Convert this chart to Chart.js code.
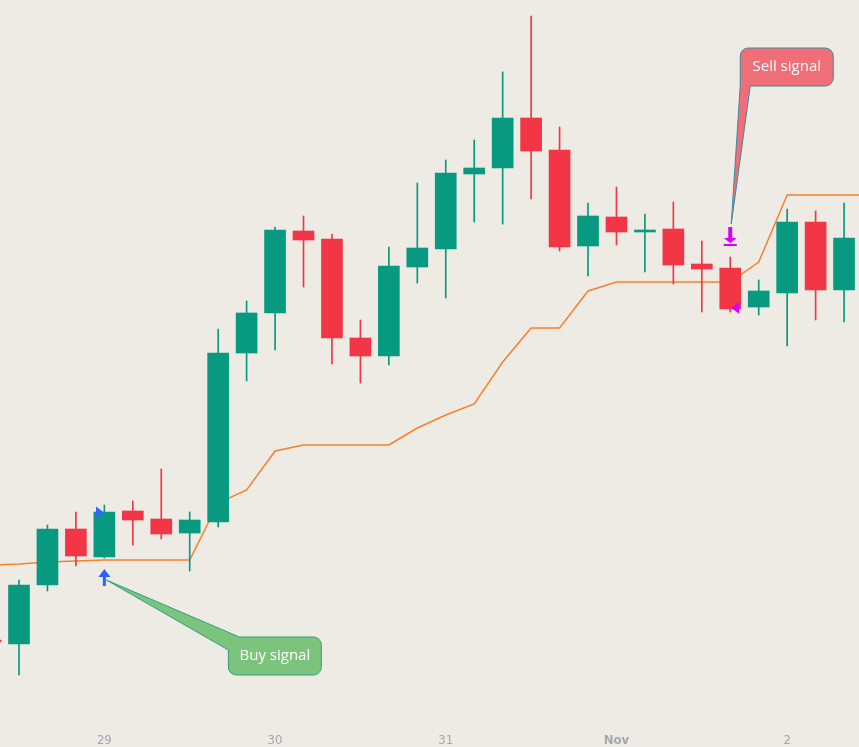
<!DOCTYPE html>
<html>
<head>
<meta charset="utf-8">
<script src="https://cdn.jsdelivr.net/npm/chart.js@4.4.0/dist/chart.umd.min.js"></script>
<style>
  html, body { margin: 0; padding: 0; background: #eeebe5; }
  #wrap { position: relative; width: 859px; height: 747px; }
</style>
</head>
<body>
<div id="wrap"><canvas id="chart"></canvas></div>
<script>
'use strict';

// 4h candles; position 0 is the first full candle at the left edge
const firstIdx = -1;
const opens  = [116.0, 115.6, 121.5, 127.1, 124.3, 128.9, 128.1, 126.7, 127.8, 144.7, 148.7, 156.9, 156.1, 146.2, 144.4, 153.3,
                155.1, 162.6, 163.2, 168.2, 165.0, 155.4, 158.3, 156.8, 157.1, 153.6, 153.2, 149.3, 150.7, 157.8, 151.0];
const highs  = [116.0, 122.0, 127.5, 128.8, 129.5, 129.9, 133.1, 128.8, 147.1, 149.9, 157.3, 158.4, 156.6, 148.0, 155.3, 161.7,
                164.0, 166.0, 172.8, 178.4, 167.3, 159.7, 161.3, 158.6, 159.8, 155.9, 154.3, 152.0, 159.1, 158.9, 159.7];
const lows   = [115.8, 112.5, 120.9, 123.4, 124.2, 125.5, 126.1, 122.9, 127.3, 141.9, 145.0, 151.3, 143.6, 141.7, 143.5, 151.7,
                150.2, 157.8, 157.6, 160.1, 154.9, 152.4, 155.5, 152.8, 151.6, 148.8, 148.8, 148.5, 145.4, 148.0, 147.8];
const closes = [115.8, 121.5, 127.1, 124.4, 128.8, 128.0, 126.6, 128.0, 144.7, 148.7, 157.0, 156.0, 146.2, 144.4, 153.4, 155.2,
                162.7, 163.2, 168.2, 164.9, 155.3, 158.4, 156.8, 157.0, 153.5, 153.1, 149.1, 150.9, 157.8, 151.0, 156.2];

// trailing stop line (one point per candle, plus one past the right edge)
const stopLine = [123.5, 123.6, 123.8, 123.9, 124.0, 124.0, 124.0, 124.0, 129.7, 131.0, 134.9, 135.5, 135.5, 135.5, 135.5, 137.2,
                  138.5, 139.6, 143.8, 147.2, 147.2, 150.9, 151.8, 151.8, 151.8, 151.8, 151.8, 153.8, 160.5, 160.5, 160.5, 160.5];

const tickPos    = [3, 9, 15, 21, 27];
const tickLabels = ['29', '30', '31', 'Nov', '2'];

// signals: [candle, price]
const buyArrow  = [3, 122.3];
const buyFlag   = [2.85, 128.75];
const sellArrow = [25, 156.4];
const sellFlag  = [25.18, 149.2];

const UP = '#089981', DOWN = '#f23645';

const xs = opens.map((_, i) => firstIdx + i);
const colors = opens.map((o, i) => closes[i] >= o ? UP : DOWN);

const signalsPlugin = {
  id: 'signals',
  afterDatasetsDraw(chart) {
    const { ctx, scales: { x, y } } = chart;
    ctx.save();

    // buy flag (right-pointing triangle)
    let px = x.getPixelForValue(buyFlag[0]), py = y.getPixelForValue(buyFlag[1]);
    ctx.fillStyle = '#2f67f6';
    ctx.beginPath();
    ctx.moveTo(px - 4, py - 6); ctx.lineTo(px + 4, py); ctx.lineTo(px - 4, py + 6);
    ctx.closePath(); ctx.fill();

    // buy arrow
    px = x.getPixelForValue(buyArrow[0]); py = y.getPixelForValue(buyArrow[1]);
    ctx.fillStyle = '#2962ff';
    ctx.beginPath();
    ctx.moveTo(px, py - 8); ctx.lineTo(px + 6, py); ctx.lineTo(px - 6, py); ctx.closePath(); ctx.fill();
    ctx.fillRect(px - 1.5, py, 3, 9);
    const buyTip = [px + 2, py + 3];

    // sell flag (left-pointing triangle)
    px = x.getPixelForValue(sellFlag[0]); py = y.getPixelForValue(sellFlag[1]);
    ctx.fillStyle = '#d500f9';
    ctx.beginPath();
    ctx.moveTo(px + 4, py - 6); ctx.lineTo(px - 4, py); ctx.lineTo(px + 4, py + 6);
    ctx.closePath(); ctx.fill();

    // sell arrow with bar
    px = x.getPixelForValue(sellArrow[0]); py = y.getPixelForValue(sellArrow[1]);
    ctx.fillRect(px - 2, py - 9, 4, 11);
    ctx.beginPath();
    ctx.moveTo(px - 6.5, py + 2); ctx.lineTo(px + 6.5, py + 2); ctx.lineTo(px, py + 7); ctx.closePath(); ctx.fill();
    ctx.fillRect(px - 6.5, py + 8, 13, 2);
    const sellTip = [px + 1, py - 12];

    // callouts
    const w = 93, h = 38, r = 8;
    ctx.lineWidth = 1;
    ctx.font = '15px "Open Sans", sans-serif';
    ctx.textAlign = 'center';
    ctx.textBaseline = 'middle';

    // buy: pointer enters at the top-left corner
    let bx = buyTip[0] + 122, by = buyTip[1] + 57;
    ctx.beginPath();
    ctx.moveTo(bx + 11, by);
    ctx.lineTo(bx + w - r, by); ctx.arcTo(bx + w, by, bx + w, by + r, r);
    ctx.lineTo(bx + w, by + h - r); ctx.arcTo(bx + w, by + h, bx + w - r, by + h, r);
    ctx.lineTo(bx + r, by + h); ctx.arcTo(bx, by + h, bx, by + h - r, r);
    ctx.lineTo(bx, by + 13);
    ctx.lineTo(buyTip[0], buyTip[1]);
    ctx.closePath();
    ctx.fillStyle = '#7cc47c'; ctx.fill();
    ctx.strokeStyle = '#2e9e8c'; ctx.stroke();
    ctx.fillStyle = '#ffffff';
    ctx.fillText('Buy signal', bx + w / 2, by + h / 2);

    // sell: pointer leaves from the bottom-left corner
    bx = sellTip[0] + 9; by = sellTip[1] - 176;
    ctx.beginPath();
    ctx.moveTo(bx + 10, by + h);
    ctx.lineTo(bx + w - r, by + h); ctx.arcTo(bx + w, by + h, bx + w, by + h - r, r);
    ctx.lineTo(bx + w, by + r); ctx.arcTo(bx + w, by, bx + w - r, by, r);
    ctx.lineTo(bx + r, by); ctx.arcTo(bx, by, bx, by + r, r);
    ctx.lineTo(bx, by + h - 1);
    ctx.lineTo(sellTip[0], sellTip[1]);
    ctx.closePath();
    ctx.fillStyle = '#ef6e78'; ctx.fill();
    ctx.strokeStyle = '#3d8a9e'; ctx.stroke();
    ctx.fillStyle = '#ffffff';
    ctx.fillText('Sell signal', bx + w / 2, by + h / 2);

    ctx.restore();
  }
};

new Chart(document.getElementById('chart'), {
  type: 'bar',
  data: {
    datasets: [
      {
        type: 'line',
        data: stopLine.map((v, i) => ({ x: firstIdx + i, y: v })),
        borderColor: '#f7812b',
        borderWidth: 1.5,
        pointRadius: 0,
        tension: 0,
        order: 3
      },
      {
        data: xs.map((xv, i) => ({ x: xv, y: [lows[i], highs[i]] })),
        backgroundColor: colors,
        barThickness: 1,
        grouped: false,
        order: 2
      },
      {
        data: xs.map((xv, i) => ({ x: xv, y: [opens[i], closes[i]] })),
        backgroundColor: colors,
        barThickness: 21,
        grouped: false,
        order: 1
      }
    ]
  },
  options: {
    responsive: true,
    maintainAspectRatio: false,
    animation: false,
    layout: { padding: 0 },
    plugins: { legend: { display: false }, tooltip: { enabled: false } },
    scales: {
      x: {
        type: 'linear',
        min: -0.668, max: 29.525,
        offset: false,
        grid: { display: false, drawTicks: false },
        border: { display: false },
        afterBuildTicks: s => { s.ticks = tickPos.map(v => ({ value: v })); },
        afterFit: s => { s.height = 20; },
        ticks: {
          autoSkip: false,
          maxRotation: 0,
          padding: 6,
          color: '#a3a6af',
          font: c => ({
            family: '"DejaVu Sans Condensed", "Liberation Sans Narrow", sans-serif',
            size: 13,
            weight: c.tick && c.tick.value === 21 ? 'bold' : 'normal'
          }),
          callback: v => tickLabels[tickPos.indexOf(v)]
        }
      },
      y: {
        display: false,
        beginAtZero: false,
        min: 107.3, max: 180
      }
    }
  },
  plugins: [signalsPlugin]
});
</script>
</body>
</html>
